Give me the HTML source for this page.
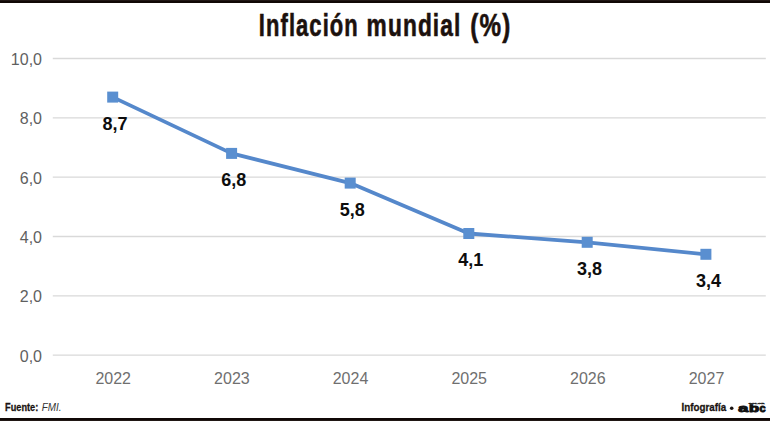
<!DOCTYPE html>
<html>
<head>
<meta charset="utf-8">
<style>
html,body{margin:0;padding:0;background:#fff;}
body{width:770px;height:421px;overflow:hidden;position:relative;}
svg{position:absolute;left:0;top:0;display:block;}
.ttl{font-family:"Liberation Sans",Arial,sans-serif;font-weight:bold;font-size:30.5px;fill:#1c110d;stroke:#1c110d;stroke-width:0.6px;letter-spacing:1.5px;}
.ax{font-family:"Liberation Sans",Arial,sans-serif;font-size:16px;fill:#5f5f5f;}
.dl{font-family:"Liberation Sans",Arial,sans-serif;font-weight:bold;font-size:18px;fill:#0d0d0d;}
.ft{font-family:"Liberation Sans",Arial,sans-serif;font-size:11.5px;fill:#1a1311;}
</style>
</head>
<body>
<svg width="770" height="421" viewBox="0 0 770 421">
  <rect x="0" y="0" width="770" height="421" fill="#ffffff"/>
  <!-- top & bottom borders -->
  <rect x="0" y="0" width="770" height="3" fill="#100806"/>
  <rect x="0" y="0" width="770" height="1" fill="#201714"/>
  <rect x="0" y="418" width="770" height="3" fill="#100806"/>
  <rect x="0" y="420" width="770" height="1" fill="#201714"/>

  <!-- title -->
  <g class="ttl">
    <text transform="translate(258.84,35.6) scale(0.7202,1)">Inflación</text>
    <text transform="translate(366.6,35.6) scale(0.745,1)">mundial</text>
    <text transform="translate(470.3,35.6) scale(0.7954,1)">(%)</text>
  </g>

  <!-- gridlines -->
  <g stroke="#d9d9d9" stroke-width="1.3">
    <line x1="52.8" y1="58.5" x2="765.8" y2="58.5"/>
    <line x1="52.8" y1="117.8" x2="765.8" y2="117.8"/>
    <line x1="52.8" y1="177.2" x2="765.8" y2="177.2"/>
    <line x1="52.8" y1="236.5" x2="765.8" y2="236.5"/>
    <line x1="52.8" y1="295.9" x2="765.8" y2="295.9"/>
    <line x1="52.8" y1="355.2" x2="765.8" y2="355.2"/>
  </g>

  <!-- y axis labels -->
  <g class="ax" text-anchor="end">
    <text x="42" y="64.8">10,0</text>
    <text x="42" y="124.1">8,0</text>
    <text x="42" y="183.5">6,0</text>
    <text x="42" y="242.8">4,0</text>
    <text x="42" y="302.2">2,0</text>
    <text x="42" y="361.5">0,0</text>
  </g>

  <!-- x axis labels -->
  <g class="ax" text-anchor="middle" fill="#6f6f6f" style="fill:#6f6f6f">
    <text x="113.2" y="383.9">2022</text>
    <text x="231.9" y="383.9">2023</text>
    <text x="350.5" y="383.9">2024</text>
    <text x="469.2" y="383.9">2025</text>
    <text x="587.8" y="383.9">2026</text>
    <text x="706.5" y="383.9">2027</text>
  </g>

  <!-- series line -->
  <polyline fill="none" stroke="#5588cb" stroke-width="3.8" stroke-linejoin="round"
    points="112.7,97.1 231.6,153.4 350.2,183.1 468.8,233.5 587.2,242.3 705.9,254.3"/>
  <g fill="#5a8fd0">
    <rect x="107.2" y="91.6" width="11" height="11"/>
    <rect x="226.1" y="147.9" width="11" height="11"/>
    <rect x="344.7" y="177.6" width="11" height="11"/>
    <rect x="463.3" y="228.0" width="11" height="11"/>
    <rect x="581.7" y="236.8" width="11" height="11"/>
    <rect x="700.4" y="248.8" width="11" height="11"/>
  </g>

  <!-- data labels -->
  <g class="dl" text-anchor="middle">
    <text x="115.0" y="129.6">8,7</text>
    <text x="233.7" y="185.7">6,8</text>
    <text x="352.2" y="216.1">5,8</text>
    <text x="470.8" y="266.0">4,1</text>
    <text x="589.5" y="275.0">3,8</text>
    <text x="708.5" y="287.4">3,4</text>
  </g>

  <!-- footer -->
  <text class="ft" font-weight="bold" stroke="#1a1311" stroke-width="0.3" transform="translate(5.12,410.6) scale(0.7977,1)">Fuente:</text>
  <text class="ft" font-style="italic" fill="#333" style="fill:#333" transform="translate(41.8,410.6) scale(0.8578,1)">FMI.</text>
  <text class="ft" font-weight="bold" stroke="#1a1311" stroke-width="0.3" transform="translate(681.6,411) scale(0.851,1)">Infografía</text>
  <circle cx="731.7" cy="408.2" r="1.8" fill="#1a1311"/>
  <!-- abc logo -->
  <defs><clipPath id="cb"><rect x="736" y="404.3" width="32" height="10"/></clipPath></defs>
  <text x="748.4" y="404.0" font-family="Liberation Sans" font-weight="bold" font-size="1.9" textLength="16.2" lengthAdjust="spacingAndGlyphs" fill="#222" stroke="#222" stroke-width="0.3">COLOR</text>
  <g font-family="Liberation Sans" font-weight="bold" font-size="10" fill="#111" stroke="#111" stroke-width="0.9" stroke-linejoin="round" clip-path="url(#cb)">
    <text transform="translate(738.21,411.5) scale(1.80,1)">a</text>
    <text transform="translate(748.94,411.5) scale(1.647,1)">b</text>
    <text transform="translate(759.44,411.5) scale(1.10,1)">c</text>
  </g>
</svg>
</body>
</html>
